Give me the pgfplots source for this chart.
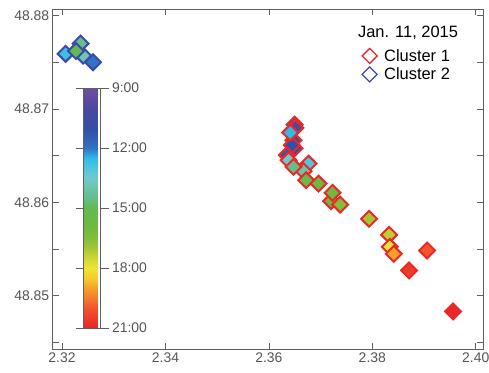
\documentclass[border=0pt]{standalone}
\usepackage{fontspec}
\setmainfont{Liberation Sans}
\usepackage{pgfplots}
\usepackage{pgfplotstable}
\pgfplotsset{compat=1.18}
\definecolor{axgray}{RGB}{95,95,95}
\definecolor{lblgray}{RGB}{85,85,85}
\definecolor{cOne}{RGB}{235,40,40}
\definecolor{cTwo}{RGB}{60,75,170}
% colormap from 21:00 (red) to 9:00 (purple), half-hour steps
\pgfplotsset{colormap={timemap}{
 rgb255=(230,40,40)
 rgb255=(235,62,42)
 rgb255=(240,85,45)
 rgb255=(243,125,42)
 rgb255=(245,160,40)
 rgb255=(243,205,45)
 rgb255=(238,228,50)
 rgb255=(205,215,50)
 rgb255=(165,198,52)
 rgb255=(130,190,57)
 rgb255=(112,186,62)
 rgb255=(106,186,70)
 rgb255=(100,185,80)
 rgb255=(100,190,135)
 rgb255=(108,195,170)
 rgb255=(115,200,205)
 rgb255=(80,198,220)
 rgb255=(50,185,232)
 rgb255=(50,115,195)
 rgb255=(50,95,180)
 rgb255=(50,80,165)
 rgb255=(62,76,162)
 rgb255=(75,72,160)
 rgb255=(95,75,160)
 rgb255=(112,78,160)
}}
\pgfplotstableread{
x y t
2.36497 48.86832 9.5
2.36512 48.86797 10
2.36477 48.86665 10.5
2.36497 48.86580 10.8
2.36444 48.86612 11
2.36348 48.86505 11.2
2.36412 48.86747 12.5
2.36767 48.86415 13
2.36381 48.86451 13.5
2.36670 48.86334 14
2.36477 48.86380 14.5
2.36721 48.86237 15.3
2.36960 48.86201 15.5
2.37204 48.86013 15.8
2.37231 48.86102 16
2.37378 48.85976 16.5
2.37938 48.85824 17
2.38325 48.85652 17.3
2.38338 48.85524 18
2.38415 48.85449 19
2.39059 48.85484 20
2.38711 48.85271 20.5
2.39561 48.84832 21
}\clusterone
\pgfplotstableread{
x y t
2.3260 48.8750 12
2.3207 48.8759 12.7
2.3241 48.8757 13.8
2.3236 48.8770 14.5
2.3227 48.8762 15
}\clustertwo
\begin{document}
\begin{tikzpicture}
\useasboundingbox (-52.7bp,-24bp) rectangle (436.3bp,349bp);
\begin{axis}[
  scale only axis, width=430.3bp, height=340bp,
  xmin=2.3182, xmax=2.4014, ymin=48.8443, ymax=48.8807,
  xtick={2.32,2.34,2.36,2.38,2.40},
  ytick={48.85,48.86,48.87,48.88},
  minor ytick={48.845,48.855,48.865,48.875},
  tick align=inside, major tick length=6bp, minor tick length=6bp,
  axis line style={axgray, line width=0.6pt},
  tick style={axgray, line width=0.6pt},
  ticklabel style={font=\fontsize{14}{14}\selectfont, text=lblgray},
  /pgf/number format/assume math mode=true,
  /pgf/number format/fixed, /pgf/number format/precision=2,
  /pgf/number format/fixed zerofill,
  scaled ticks=false,
  colormap name=timemap, point meta min=-21, point meta max=-9,
  colorbar,
  colorbar style={
    at={(parent axis.north west)}, anchor=north west,
    xshift=22.3bp, yshift=-79bp,
    scale only axis, width=17bp, height=240bp,
    ytick={-21,-18,-15,-12,-9}, yticklabels={21:00,18:00,15:00,12:00,9:00},
    minor ytick={}, xtick=\empty,
    tick align=outside, major tick length=8bp,
    yticklabel style={font=\fontsize{14}{14}\selectfont, text=lblgray},
    axis line style={axgray, line width=0.5pt},
    tick style={axgray, line width=0.6pt},
  },
  legend style={draw=none, fill=none, at={(0.7187,0.888)}, anchor=north west,
    font=\fontsize{16.5}{16.5}\selectfont, row sep=1bp, column sep=5bp, inner sep=0pt},
  legend cell align=left,
]
\addplot[scatter, only marks, scatter src=explicit, mark=square*, mark size=5.6bp,
  scatter/use mapped color={draw=cOne, fill=mapped color},
  mark options={rotate=45, line width=2bp}, forget plot]
  table[x=x, y=y, meta expr=-\thisrow{t}] {\clusterone};
\addplot[scatter, only marks, scatter src=explicit, mark=square*, mark size=5.6bp,
  scatter/use mapped color={draw=cTwo, fill=mapped color},
  mark options={rotate=45, line width=2bp}, forget plot]
  table[x=x, y=y, meta expr=-\thisrow{t}] {\clustertwo};
\addlegendimage{only marks, mark=square, mark size=5.3bp, mark options={rotate=45, draw=cOne, line width=1.3bp}}
\addlegendentry{Cluster 1}
\addlegendimage{only marks, mark=square, mark size=5.3bp, mark options={rotate=45, draw=cTwo, line width=1.3bp}}
\addlegendentry{Cluster 2}
\node[anchor=west, font=\fontsize{16.5}{16.5}\selectfont, inner sep=0pt] at (axis cs:2.3772,48.87813) {Jan. 11, 2015};
\end{axis}
\end{tikzpicture}
\end{document}
